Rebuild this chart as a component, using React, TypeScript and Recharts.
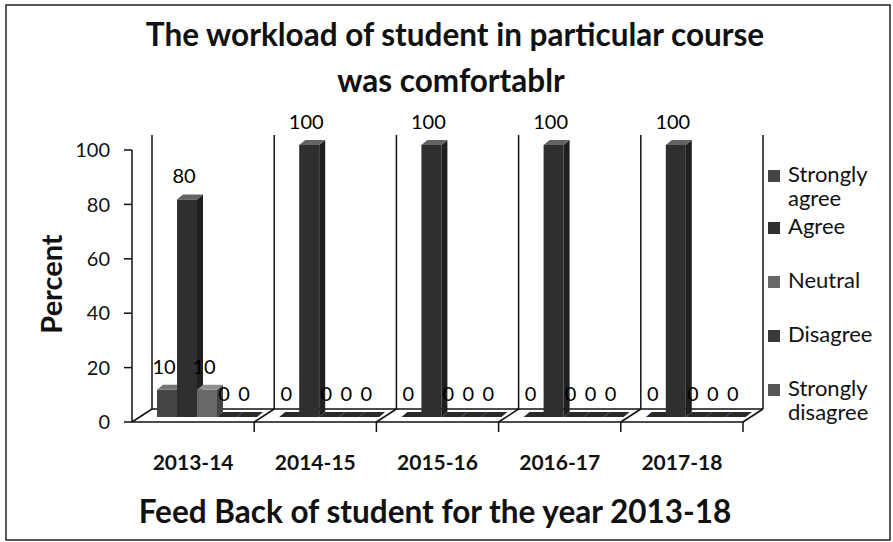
import React from 'react';
import { BarChart, Bar, XAxis, YAxis, LabelList, Legend } from 'recharts';

// ---------- data ----------
const years = ['2013-14', '2014-15', '2015-16', '2016-17', '2017-18'];
const stronglyAgree = [10, 0, 0, 0, 0];
const agree = [80, 100, 100, 100, 100];
const neutral = [10, 0, 0, 0, 0];
const disagree = [0, 0, 0, 0, 0];
const stronglyDisagree = [0, 0, 0, 0, 0];
const seriesNames = ['Strongly agree', 'Agree', 'Neutral', 'Disagree', 'Strongly disagree'];
const yTicks = [0, 20, 40, 60, 80, 100];
const titleLines = ['The workload of student in particular course', 'was comfortablr'];
const xTitle = 'Feed Back of student for the year 2013-18';
const yTitle = 'Percent';

const seriesKeys = ['sa', 'ag', 'ne', 'di', 'sd'];
const seriesValues = [stronglyAgree, agree, neutral, disagree, stronglyDisagree];
const data = years.map((year, i) => {
  const row: any = { year };
  seriesKeys.forEach((k, s) => (row[k] = seriesValues[s][i]));
  return row;
});

// ---------- layout / style ----------
const W = 893, H = 542;
const PLOT_L = 132, PLOT_R = 743, PLOT_T = 150, PLOT_B = 422;
const BAND = (PLOT_R - PLOT_L) / years.length;
const DEPTH_X = 20, DEPTH_Y = -13;
const WALL_TOP = 135;
const BAR_DX = 14, BAR_DY = -5;
const BAR_DEPTH_X = 6, BAR_DEPTH_Y = -5;
const FONT = 'Lato, "Open Sans", sans-serif';
const colors = ['#454545', '#2f2f2f', '#686868', '#383838', '#555555'];
const legendBaselines = [182, 234, 288, 342, 396];

function shade(hex: string, amt: number) {
  const n = parseInt(hex.slice(1), 16);
  const ch = [(n >> 16) & 255, (n >> 8) & 255, n & 255].map((c) => {
    const v = amt >= 0 ? c + (255 - c) * amt : c * (1 + amt);
    return Math.max(0, Math.min(255, Math.round(v)));
  });
  return '#' + ch.map((c) => c.toString(16).padStart(2, '0')).join('');
}

function Bar3D(props: any) {
  const { x, y, width, height, fill } = props;
  if (x == null || y == null) return null;
  const fx = x + BAR_DX, fy = y + BAR_DY;
  const h = Math.max(height || 0, 0);
  const dx = BAR_DEPTH_X, dy = BAR_DEPTH_Y;
  const top = `${fx},${fy} ${fx + dx},${fy + dy} ${fx + width + dx},${fy + dy} ${fx + width},${fy}`;
  const side = `${fx + width},${fy} ${fx + width + dx},${fy + dy} ${fx + width + dx},${fy + h + dy} ${fx + width},${fy + h}`;
  return (
    <g>
      {h > 0 && <rect x={fx} y={fy} width={width} height={h} fill={fill} />}
      {h > 0 && <polygon points={side} fill={shade(fill, -0.35)} />}
      <polygon points={top} fill={h > 0 ? shade(fill, 0.25) : '#2a2a2a'} />
    </g>
  );
}

const renderLabel = (p: any) => {
  const { x, y, width, value } = p;
  return (
    <text x={x + width / 2 + BAR_DX - 3} y={y - 21} textAnchor="middle" fontSize={20}
      fontFamily={FONT} fill="#000">
      {value}
    </text>
  );
};

const XTick = (p: any) => (
  <text x={p.x} y={PLOT_B + 48} textAnchor="middle" fontSize={21} fontWeight={700}
    fontFamily={FONT} fill="#111">
    {p.payload.value}
  </text>
);

const LegendContent = (p: any) => {
  const payload = [...(p.payload || [])].sort(
    (a: any, b: any) => seriesNames.indexOf(a.value) - seriesNames.indexOf(b.value));
  return (
    <div style={{ position: 'relative', width: 127, height: H }}>
      {payload.map((item: any, i: number) => (
        <div key={i} style={{ position: 'absolute', left: 0, top: legendBaselines[i] - 20, width: 112,
          fontFamily: FONT, fontSize: 22, lineHeight: '24px', color: '#111', textAlign: 'left' }}>
          <span style={{ position: 'absolute', left: 2, top: 8, width: 12, height: 12,
            background: item.color }} />
          <div style={{ marginLeft: 22 }}>{item.value}</div>
        </div>
      ))}
    </div>
  );
};

function Decorations() {
  const lines: React.ReactNode[] = [];
  for (let k = 0; k <= years.length; k++) {
    const fx = PLOT_L + k * BAND;
    const bx = fx + DEPTH_X;
    lines.push(<line key={'w' + k} x1={bx} y1={PLOT_B + DEPTH_Y} x2={bx} y2={WALL_TOP} stroke="#111" strokeWidth={1.5} />);
    lines.push(<line key={'d' + k} x1={fx} y1={PLOT_B} x2={bx} y2={PLOT_B + DEPTH_Y} stroke="#111" strokeWidth={1.5} />);
    if (k > 0) lines.push(<line key={'t' + k} x1={fx} y1={PLOT_B} x2={fx} y2={PLOT_B + 10} stroke="#111" strokeWidth={1.5} />);
  }
  return (
    <svg width={W} height={H} style={{ position: 'absolute', left: 0, top: 0 }}>
      <rect x={6} y={5} width={884} height={535} fill="#fff" stroke="#222" strokeWidth={1.5} />
      <line x1={PLOT_L + DEPTH_X} y1={PLOT_B + DEPTH_Y} x2={PLOT_R + DEPTH_X} y2={PLOT_B + DEPTH_Y} stroke="#111" strokeWidth={1.5} />
      {lines}
      <g fontFamily={FONT} fontWeight={700} fill="#111" textAnchor="middle">
        <text x={455} y={46} fontSize={31.5}>{titleLines[0]}</text>
        <text x={451} y={92} fontSize={31.5}>{titleLines[1]}</text>
        <text x={435} y={523} fontSize={31.5}>{xTitle}</text>
        <text x={0} y={0} fontSize={29} transform="translate(62,284) rotate(-90)">{yTitle}</text>
      </g>
    </svg>
  );
}

export default function App() {
  return (
    <div style={{ position: 'absolute', left: 0, top: 0, width: W, height: H, background: '#fff' }}>
      <Decorations />
      <div style={{ position: 'absolute', left: 0, top: 0 }}>
        <BarChart width={W} height={H} data={data}
          margin={{ top: PLOT_T, right: W - PLOT_R, bottom: 0, left: 0 }}
          barCategoryGap={11} barGap={0}>
          <XAxis dataKey="year" height={H - PLOT_B} axisLine={{ stroke: '#111', strokeWidth: 1.5 }}
            tickLine={false} tick={<XTick />} interval={0} />
          <YAxis width={PLOT_L} domain={[0, 100]} ticks={yTicks} interval={0}
            axisLine={{ stroke: '#111', strokeWidth: 1.5 }} tickLine={{ stroke: '#111', strokeWidth: 1.5 }}
            tickSize={8} tickMargin={14}
            tick={{ fontSize: 20, fill: '#111', fontFamily: FONT }} />
          <Legend layout="horizontal" verticalAlign="middle" align="center" content={<LegendContent />}
            wrapperStyle={{ position: 'absolute', left: 766, top: 0, width: 127, height: H }} />
          {seriesKeys.map((k, s) => (
            <Bar key={k} dataKey={k} name={seriesNames[s]} fill={colors[s]} shape={<Bar3D />}
              isAnimationActive={false}>
              <LabelList dataKey={k} content={renderLabel} />
            </Bar>
          ))}
        </BarChart>
      </div>
    </div>
  );
}
